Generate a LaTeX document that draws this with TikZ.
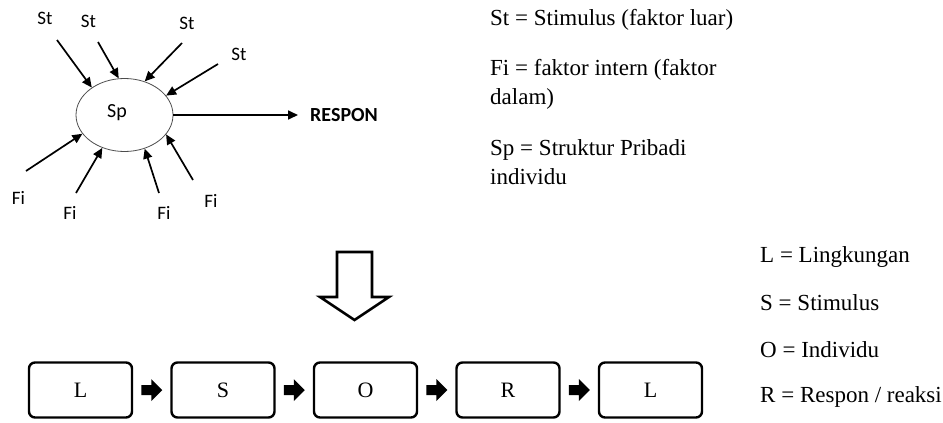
\documentclass[tikz,border=0pt]{standalone}
\usepackage{fontspec}
\setmainfont{Liberation Serif}
\newfontfamily\calib{Carlito}
\usetikzlibrary{shapes.geometric,arrows.meta}
\begin{document}
\begin{tikzpicture}[x=1pt,y=-1pt,
  lbl/.style={font=\calib\fontsize{19}{21}\selectfont, inner sep=0},
  inarrow/.style={line width=1.7pt, -{Triangle[length=10pt,width=9pt]}},
  legend/.style={font=\fontsize{23}{29}\selectfont, align=left, anchor=base west, inner sep=0},
  boxnode/.style={draw, line width=2.4pt, rounded corners=6pt, minimum width=103pt, minimum height=55pt, font=\fontsize{22}{24}\selectfont},
]
\useasboundingbox (0,0) rectangle (943,423);
% ellipse
\node[ellipse, draw=black!70, line width=0.8pt, minimum width=97pt, minimum height=73pt,
      inner sep=0] (sp) at (124.5,115) {};
\node[font=\calib\fontsize{20}{22}\selectfont, inner sep=0] (sptext) at (117,113) {Sp};
% St
\coordinate (s1) at (57,40);
\coordinate (s2) at (98,42);
\coordinate (s3) at (182,43);
\coordinate (s4) at (218,64);
\draw[inarrow] (s1) -- (sp.140);
\draw[inarrow] (s2) -- (sp.99);
\draw[inarrow] (s3) -- (sp.59);
\draw[inarrow] (s4) -- (sp.25);
\node[lbl] (st1) at (45,18.5) {St};
\node[lbl] (st2) at (88.5,21) {St};
\node[lbl] (st3) at (187,23) {St};
\node[lbl] (st4) at (239,54) {St};
% Fi
\coordinate (f1) at (26,171);
\coordinate (f2) at (76,193);
\coordinate (f3) at (159,193);
\coordinate (f4) at (193,180);
\draw[inarrow] (f1) -- (sp.204);
\draw[inarrow] (f2) -- (sp.236);
\draw[inarrow] (f3) -- (sp.301);
\draw[inarrow] (f4) -- (sp.335);
\node[lbl] (fi1) at (18.5,198) {Fi};
\node[lbl] (fi2) at (70,213) {Fi};
\node[lbl] (fi3) at (164,213) {Fi};
\node[lbl] (fi4) at (211,201) {Fi};
% respon
\node[font=\calib\bfseries\fontsize{20}{22}\selectfont, anchor=west, inner sep=0] (respon) at (310,115) {RESPON};
\draw[inarrow] (sp.east) -- ([xshift=-12pt]respon.west |- sp.east);
% legend top
\node[legend] (lg1) at (490,25) {St = Stimulus (faktor luar)};
\node[legend] (lg2) at (490,104) {Fi = faktor intern (faktor\\dalam)};
\node[legend] (lg3) at (490,184) {Sp = Struktur Pribadi\\individu};
% down arrow
\draw[line width=2.6pt, fill=white, line join=miter] (337,252) -- (372,252) -- (372,297) -- (389,297) -- (354.5,320) -- (320,297) -- (337,297) -- cycle;
% boxes
\node[boxnode] (b1) at (80.5,390) {L};
\node[boxnode] (b2) at (223,390) {S};
\node[boxnode] (b3) at (365.5,390) {O};
\node[boxnode] (b4) at (508,390) {R};
\node[boxnode] (b5) at (650.5,390) {L};
\foreach \a/\b in {b1/b2,b2/b3,b3/b4,b4/b5}{
  \path (\a.east) -- (\b.west) coordinate[midway] (m\a);
  \fill (m\a) ++(-10.5,-5) -- ++(10,0) -- ++(0,-6) -- ++(11,11) -- ++(-11,11) -- ++(0,-6) -- ++(-10,0) -- cycle;
}
% legend bottom
\node[legend] (lb1) at (760,262) {L = Lingkungan};
\node[legend] (lb2) at (760,310) {S = Stimulus};
\node[legend] (lb3) at (760,357) {O = Individu};
\node[legend] (lb4) at (760,402) {R = Respon / reaksi};
\end{tikzpicture}
\end{document}
